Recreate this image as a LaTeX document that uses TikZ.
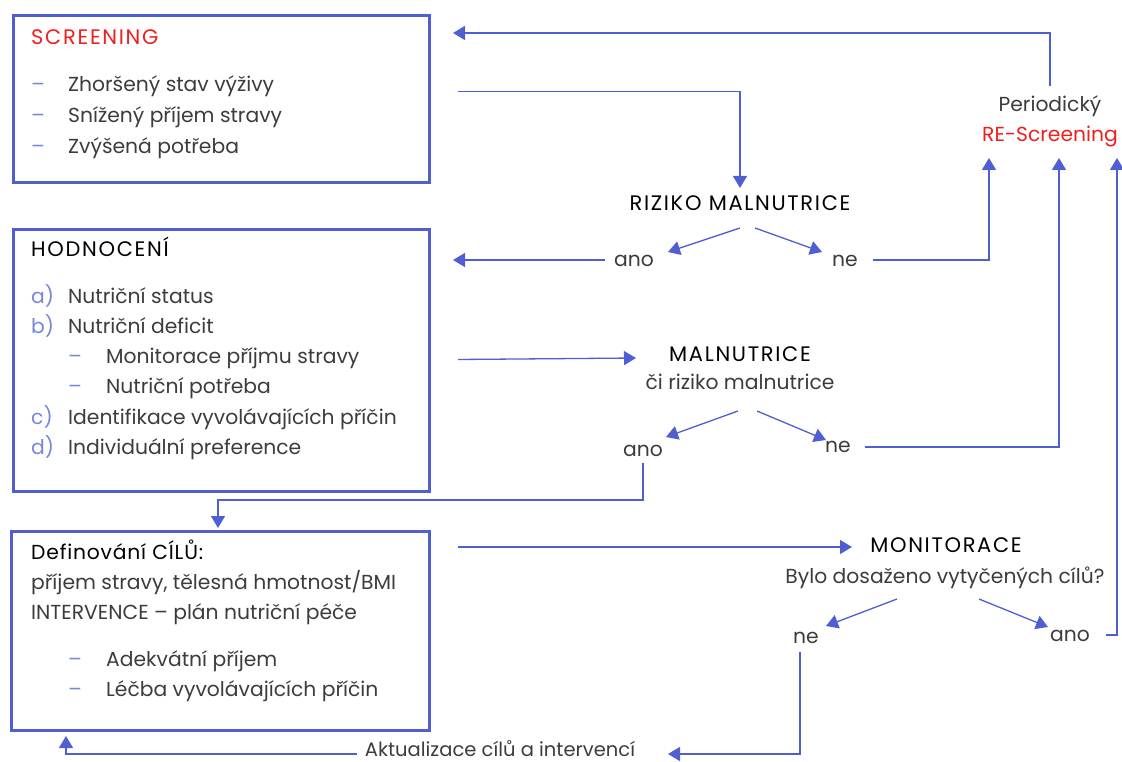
\documentclass[tikz,border=0pt]{standalone}
\usepackage{fontspec}
\setmainfont{Poppins}
\newfontfamily\hdfont[LetterSpace=8]{Poppins}
\newfontfamily\dffont[LetterSpace=4]{Poppins}
\usetikzlibrary{arrows.meta,calc}
\definecolor{bl}{RGB}{79,94,208}
\definecolor{lb}{RGB}{120,134,220}
\definecolor{tx}{RGB}{60,60,60}
\definecolor{rd}{RGB}{240,30,30}
\begin{document}
\begin{tikzpicture}[x=1pt,y=-1pt,font=\fontsize{20.3}{24}\selectfont,
  box/.style={draw=bl,line width=3pt,inner sep=0pt,anchor=north west},
  conn/.style={draw=bl,line width=1.3pt,-{Triangle[length=12pt,width=14pt]}},
  t/.style={inner sep=0pt,text height=18pt,text depth=5pt,text=tx},
  tl/.style={t,anchor=west},
  hd/.style={t,text=black,font=\hdfont\fontsize{21}{24}\selectfont},
  hl/.style={hd,anchor=west},
  mk/.style={t,anchor=west,text=lb}]
\useasboundingbox (0,0) rectangle (1122,762);
% boxes
\node[box,minimum width=416pt,minimum height=167pt] (b1) at (12,14) {};
\node[box,minimum width=416pt,minimum height=262pt] (b2) at (12,228) {};
\node[box,minimum width=418pt,minimum height=199pt] (b3) at (10,530) {};
% box 1 text
\node[hl,text=rd] (s0) at (31,38) {SCREENING};
\node[mk] (s1d) at (31,85) {–}; \node[tl] (s1) at (68,85) {Zhoršený stav výživy};
\node[mk] (s2d) at (31,116) {–}; \node[tl] (s2) at (68,116) {Snížený příjem stravy};
\node[mk] (s3d) at (31,147) {–}; \node[tl] (s3) at (68,147) {Zvýšená potřeba};
% box 2 text
\node[hl] (h0) at (31,250) {HODNOCENÍ};
\node[mk] (h1m) at (31,297) {a)}; \node[tl] (h1) at (68,297) {Nutriční status};
\node[mk] (h2m) at (31,327) {b)}; \node[tl] (h2) at (68,327) {Nutriční deficit};
\node[mk] (h3m) at (68,357) {–}; \node[tl] (h3) at (106,357) {Monitorace příjmu stravy};
\node[mk] (h4m) at (68,387) {–}; \node[tl] (h4) at (106,387) {Nutriční potřeba};
\node[mk] (h5m) at (31,418) {c)}; \node[tl] (h5) at (68,418) {Identifikace vyvolávajících příčin};
\node[mk] (h6m) at (31,448) {d)}; \node[tl] (h6) at (68,448) {Individuální preference};
% box 3 text
\node[tl,text=black,font=\dffont\fontsize{20.3}{24}\selectfont] (d0) at (31,553) {Definování CÍLŮ:};
\node[tl] (d1) at (31,583) {příjem stravy, tělesná hmotnost/BMI};
\node[tl] (d2) at (31,613) {INTERVENCE – plán nutriční péče};
\node[mk] (d3m) at (68,660) {–}; \node[tl] (d3) at (106,660) {Adekvátní příjem};
\node[mk] (d4m) at (68,690) {–}; \node[tl] (d4) at (106,690) {Léčba vyvolávajících příčin};
% decision texts
\node[hd] (riz) at (740,204) {RIZIKO MALNUTRICE};
\node[t] (ano1) at (634,260) {ano};
\node[t] (ne1) at (845,260) {ne};
\node[t] (per) at (1050,105) {Periodický};
\node[t,text=rd] (resc) at (1050,135) {RE-Screening};
\node[hd] (mal) at (740,355) {MALNUTRICE};
\node[t] (ci) at (740,383) {či riziko malnutrice};
\node[t] (ano2) at (643,450) {ano};
\node[t] (ne2) at (838,446) {ne};
\node[hd] (mon) at (946,546) {MONITORACE};
\node[t] (byl) at (945,577) {Bylo dosaženo vytyčených cílů?};
\node[t] (ne3) at (806,637) {ne};
\node[t] (ano3) at (1070,635) {ano};
\node[t,text height=14pt,text depth=2pt,font=\fontsize{19.5}{22}\selectfont] (akt) at (500,750) {Aktualizace cílů a intervencí};
% connectors
\draw[conn] ($(b1.east)+(27,-7.5)$) -| ($(riz)+(0,-16)$);
\draw[conn] ($(per)+(0,-19)$) |- ($(b1.north east)+(22,19)$);
\draw[conn] ($(riz)+(0,24)$) -- ($(ano1)+(34,-8)$);
\draw[conn] ($(riz)+(15,24)$) -- ($(ne1)+(-23,-8)$);
\draw[conn] ($(ano1)+(-29,0)$) -- ($(b2.north east)+(22,32)$);
\draw[conn] ($(ne1)+(28,0)$) -| ($(resc)+(-61,23)$);
\draw[conn] ($(b2.east)+(27,-1)$) -- ($(mal)+(-104,3)$);
\draw[conn] ($(ci)+(-2,28)$) -- ($(ano2)+(23,-13)$);
\draw[conn] ($(ci)+(17,28)$) -- ($(ne2)+(-12,-6)$);
\draw[conn] ($(ano2)+(0,13)$) -- ($(ano2)+(0,50)$) -| ($(b3.north west)+(208,-2)$);
\draw[conn] ($(ne2)+(27,1)$) -| ($(resc)+(9,23)$);
\draw[conn] ($(b3.north east)+(27,17)$) -- ($(mon)+(-94,1)$);
\draw[conn] ($(byl)+(-48,22)$) -- ($(ne3)+(20,-11)$);
\draw[conn] ($(byl)+(34,22)$) -- ($(ano3)+(-22,-8)$);
\draw[conn] ($(ano3)+(36,0)$) -| ($(resc)+(67,23)$);
\draw[conn] ($(ne3)+(-6,15)$) |- ($(akt)+(168,4)$);
\draw[conn] ($(akt)+(-143,4)$) -| ($(b3.south west)+(56,4)$);
\end{tikzpicture}
\end{document}
